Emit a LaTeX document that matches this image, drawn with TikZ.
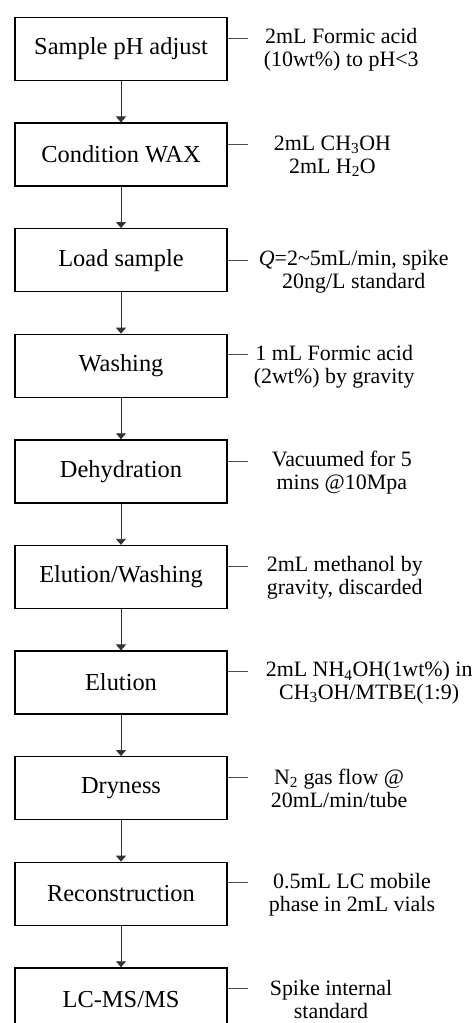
\documentclass[tikz,border=0pt]{standalone}
\usepackage{fontspec}
\setmainfont{Liberation Serif}
\usetikzlibrary{arrows.meta}

\tikzset{
  stepbox/.style={draw=black,line width=1.3bp,minimum width=212bp,minimum height=63bp,
    inner sep=0pt,font=\fontsize{24.5}{28}\selectfont},
  flow/.style={draw=black!80,line width=0.8bp,-{Triangle[length=6bp,width=10bp]}},
  tick/.style={draw=black!70,line width=0.8bp},
  note/.style={anchor=west,yshift=-11.5bp,align=center,inner sep=0pt,
    font=\fontsize{22}{23}\selectfont}
}

\begin{document}
\begin{tikzpicture}[x=1bp,y=-1bp]
  \useasboundingbox (0,0) rectangle (476,1023);

  % process steps
  \node[stepbox] (adjust) at (121,49) {Sample pH adjust};
  \node[stepbox] (condition) at (121,154.6) {Condition WAX};
  \node[stepbox] (load) at (121,260.2) {Load sample};
  \node[stepbox] (wash) at (121,365.8) {Washing};
  \node[stepbox] (dehyd) at (121,471.4) {Dehydration};
  \node[stepbox] (elwash) at (121,577) {Elution/Washing};
  \node[stepbox] (elution) at (121,682.6) {Elution};
  \node[stepbox] (dry) at (121,788.2) {Dryness};
  \node[stepbox] (recon) at (121,893.8) {Reconstruction};
  \node[stepbox] (lcms) at (121,999.4) {LC-MS/MS};

  % arrows between steps
  \draw[flow] (adjust) -- (condition);
  \draw[flow] (condition) -- (load);
  \draw[flow] (load) -- (wash);
  \draw[flow] (wash) -- (dehyd);
  \draw[flow] (dehyd) -- (elwash);
  \draw[flow] (elwash) -- (elution);
  \draw[flow] (elution) -- (dry);
  \draw[flow] (dry) -- (recon);
  \draw[flow] (recon) -- (lcms);

  % conditions
  \draw[tick] ([yshift=11bp]adjust.east) -- ++(20,0) coordinate (adjustTick);
  \node[note] (adjustNote) at ([xshift=16bp]adjustTick) {2mL Formic acid\\(10wt\%) to pH<3};

  \draw[tick] ([yshift=10bp]condition.east) -- ++(20,0) coordinate (conditionTick);
  \node[note] (conditionNote) at ([xshift=26bp]conditionTick) {2mL CH\textsubscript{3}OH\\2mL H\textsubscript{2}O};

  \draw[tick] (load.east) -- ++(20,0) coordinate (loadTick);
  \node[note] (loadNote) at ([xshift=11bp]loadTick) {\textit{Q}=2\textasciitilde5mL/min, spike\\20ng/L standard};

  \draw[tick] ([yshift=11bp]wash.east) -- ++(20,0) coordinate (washTick);
  \node[note] (washNote) at ([xshift=6bp]washTick) {1 mL Formic acid\\(2wt\%) by gravity};

  \draw[tick] ([yshift=10bp]dehyd.east) -- ++(20,0) coordinate (dehydTick);
  \node[note] (dehydNote) at ([xshift=24bp]dehydTick) {Vacuumed for 5\\mins @10Mpa};

  \draw[tick] ([yshift=11bp]elwash.east) -- ++(20,0) coordinate (elwashTick);
  \node[note] (elwashNote) at ([xshift=19bp]elwashTick) {2mL methanol by\\gravity, discarded};

  \draw[tick] ([yshift=11bp]elution.east) -- ++(20,0) coordinate (elutionTick);
  \node[note] (elutionNote) at ([xshift=18bp]elutionTick) {2mL NH\textsubscript{4}OH(1wt\%) in\\CH\textsubscript{3}OH/MTBE(1:9)};

  \draw[tick] ([yshift=11bp]dry.east) -- ++(20,0) coordinate (dryTick);
  \node[note] (dryNote) at ([xshift=23bp]dryTick) {N\textsubscript{2} gas flow @\\20mL/min/tube};

  \draw[tick] ([yshift=11bp]recon.east) -- ++(20,0) coordinate (reconTick);
  \node[note] (reconNote) at ([xshift=21bp]reconTick) {0.5mL LC mobile\\phase in 2mL vials};

  \draw[tick] ([yshift=11bp]lcms.east) -- ++(20,0) coordinate (lcmsTick);
  \node[note] (lcmsNote) at ([xshift=22bp]lcmsTick) {Spike internal\\standard};
\end{tikzpicture}
\end{document}
